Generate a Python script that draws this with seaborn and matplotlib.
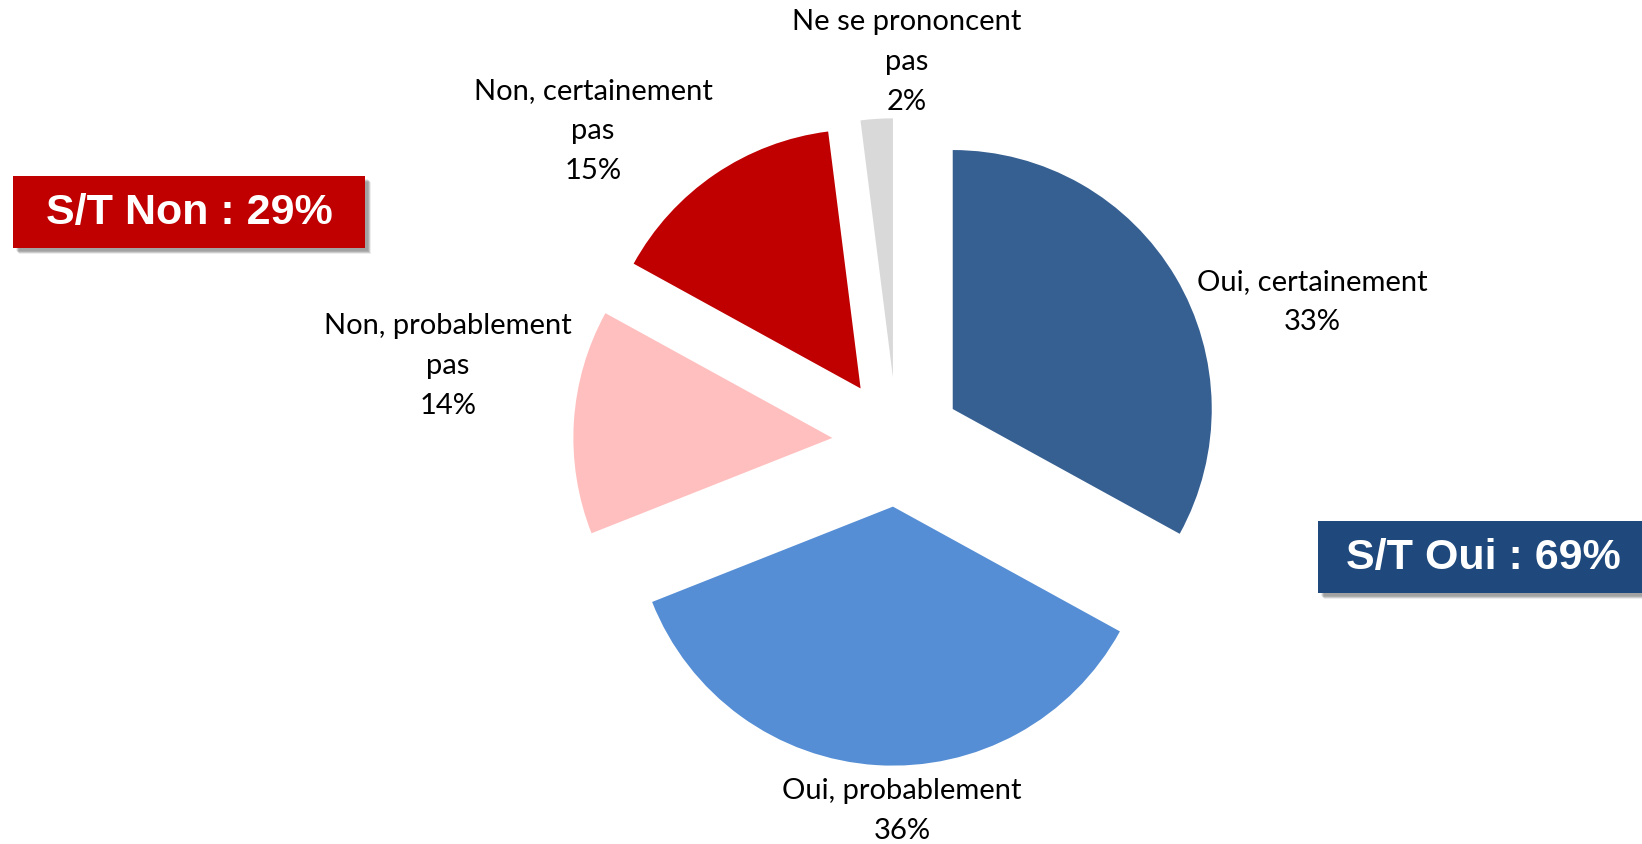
import matplotlib
matplotlib.use("Agg")
import matplotlib.pyplot as plt
import seaborn as sns
from matplotlib.patches import Rectangle

sns.set_theme(style="white")

# Data
categories = ["Oui, certainement", "Oui, probablement", "Non, probablement\npas",
              "Non, certainement\npas", "Ne se prononcent\npas"]
values = [33, 36, 14, 15, 2]
colors = ["#366092", "#558ED5", "#FFBFBF", "#C00000", "#D9D9D9"]
total_labels = ["S/T Non : 29%", "S/T Oui : 69%"]

W, H = 1642, 845
fig = plt.figure(figsize=(W / 100, H / 100), dpi=100)

# pie axes: 1 unit = 259 px, centre at (897, 443) px
R = 259
cx, cy = 897, 443
ax = fig.add_axes([0, 0, 1, 1])
ax.pie(values, colors=colors, startangle=90, counterclock=False,
       explode=[0.25] * len(values), radius=1,
       wedgeprops=dict(linewidth=0))
ax.set_xlim(-cx / R, (W - cx) / R)
ax.set_ylim(-(H - cy) / R, cy / R)
ax.set_aspect("auto")
ax.axis("off")

# overlay in pixel coordinates for labels and boxes
ov = fig.add_axes([0, 0, 1, 1], facecolor="none")
ov.set_xlim(0, W)
ov.set_ylim(H, 0)
ov.axis("off")

label_pos = [(1312, 302), (902, 811), (448, 366), (593, 131), (907, 62)]
font = ["Lato", "DejaVu Sans"]
for cat, v, (x, y) in zip(categories, values, label_pos):
    ov.text(x, y, f"{cat}\n{v}%", ha="center", va="center", fontsize=21,
            family=font, color="#000000", linespacing=1.65)

# summary boxes
boxes = [((13, 177), 352, 72, "#C00000", (189, 213)),
         ((1318, 522), 340, 72, "#1F497D", (1483, 558))]
for lab, ((bx, by), bw, bh, col, (tx, ty)) in zip(total_labels, boxes):
    for k in range(6):
        ov.add_patch(Rectangle((bx + 3 + k * 0.6, by + 3 + k * 0.6), bw, bh,
                               facecolor="#000000", alpha=0.07, linewidth=0))
    ov.add_patch(Rectangle((bx, by), bw, bh, facecolor=col, linewidth=0))
    ov.text(tx, ty, lab, ha="center", va="center", fontsize=31,
            fontweight="bold", family=["Liberation Sans", "DejaVu Sans"],
            color="white")

fig.savefig("out.png", dpi=100)
